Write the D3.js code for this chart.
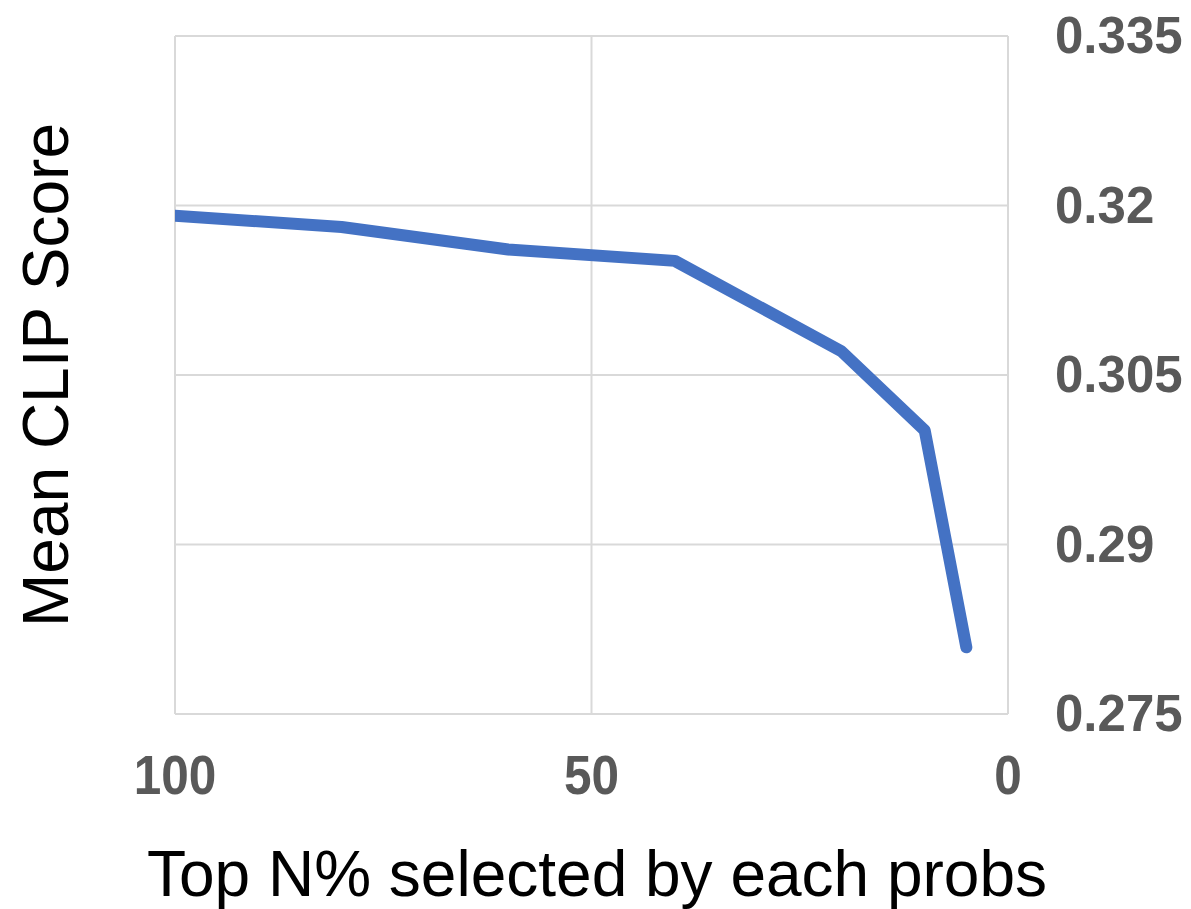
<!DOCTYPE html>
<html>
<head>
<meta charset="utf-8">
<script src="https://cdn.jsdelivr.net/npm/d3@7"></script>
<style>
  html, body { margin: 0; padding: 0; background: #fff; }
  svg { display: block; font-family: "Liberation Sans", Arial, sans-serif; }
</style>
</head>
<body>
<div id="chart"></div>
<script>
// Top N% kept vs mean CLIP score
const topN = [100, 80, 60, 40, 20, 10, 5];
const clipScore = [0.3191, 0.3181, 0.3161, 0.3151, 0.3071, 0.3001, 0.2809];
const xTicks = [100, 50, 0];
const yTicks = [0.275, 0.29, 0.305, 0.32, 0.335];

const width = 1191;
const height = 909;
const margin = { top: 36, right: 183, bottom: 195, left: 175 };

const svg = d3.select("#chart")
    .append("svg")
    .attr("width", width)
    .attr("height", height);

const x = d3.scaleLinear()
    .domain([100, 0])
    .range([margin.left, width - margin.right]);

const y = d3.scaleLinear()
    .domain([0.275, 0.335])
    .range([height - margin.bottom, margin.top]);

// gridlines + frame
svg.append("g")
    .selectAll("line.h")
    .data(yTicks)
    .enter()
    .append("line")
    .attr("x1", x(100))
    .attr("x2", x(0))
    .attr("y1", d => y(d))
    .attr("y2", d => y(d))
    .attr("stroke", "#d9d9d9")
    .attr("stroke-width", 2);

svg.append("g")
    .selectAll("line.v")
    .data(xTicks)
    .enter()
    .append("line")
    .attr("x1", d => x(d))
    .attr("x2", d => x(d))
    .attr("y1", y(0.275))
    .attr("y2", y(0.335))
    .attr("stroke", "#d9d9d9")
    .attr("stroke-width", 2);

// tick labels
svg.append("g")
    .selectAll("text")
    .data(yTicks)
    .enter()
    .append("text")
    .attr("x", 1055)
    .attr("y", d => y(d) + 17)
    .text(d => d)
    .attr("font-size", "51px")
    .attr("font-weight", "bold")
    .attr("fill", "#595959");

// x labels look a bit condensed in the original
svg.append("g")
    .selectAll("text")
    .data(xTicks)
    .enter()
    .append("text")
    .attr("transform", d => `translate(${x(d)}, 794) scale(0.9, 1)`)
    .attr("text-anchor", "middle")
    .text(d => d)
    .attr("font-size", "55px")
    .attr("font-weight", "bold")
    .attr("fill", "#595959");

// line, clipped at the left frame so the start is flat
svg.append("clipPath")
    .attr("id", "plotClip")
    .append("rect")
    .attr("x", x(100))
    .attr("y", 0)
    .attr("width", width - x(100))
    .attr("height", height);

const line = d3.line()
    .x((d, i) => x(topN[i]))
    .y(d => y(d));

svg.append("path")
    .datum(clipScore)
    .attr("d", line)
    .attr("clip-path", "url(#plotClip)")
    .attr("fill", "none")
    .attr("stroke", "#4472c4")
    .attr("stroke-width", 12)
    .attr("stroke-linejoin", "round")
    .attr("stroke-linecap", "round");

// axis titles
svg.append("text")
    .attr("transform", `translate(68, 375) rotate(-90)`)
    .attr("text-anchor", "middle")
    .text("Mean CLIP Score")
    .attr("font-size", "64px")
    .attr("fill", "#000");

svg.append("text")
    .attr("x", 597)
    .attr("y", 896)
    .attr("text-anchor", "middle")
    .text("Top N% selected by each probs")
    .attr("font-size", "64px")
    .attr("fill", "#000");
</script>
</body>
</html>
